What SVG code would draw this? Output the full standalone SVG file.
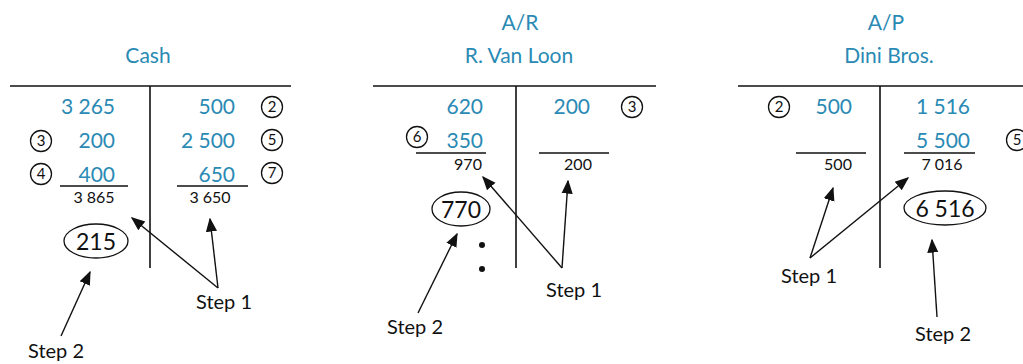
<svg xmlns="http://www.w3.org/2000/svg" width="1023" height="364" viewBox="0 0 1023 364">
<style>
.bg{fill:#fff}
.title{font-family:Lato,"Open Sans",sans-serif;font-size:21px;fill:#2a8ab4;text-anchor:middle}
.amt{font-family:Lato,"Open Sans",sans-serif;font-size:21px;fill:#2a8ab4;text-anchor:end}
.tot{font-family:Lato,"Open Sans",sans-serif;font-size:16px;fill:#111;text-anchor:middle}
.bal{font-family:Lato,"Open Sans",sans-serif;font-size:23px;fill:#111;text-anchor:middle}
.step{font-family:Lato,"Open Sans",sans-serif;font-size:20px;fill:#111}
.cn{font-family:Lato,"Open Sans",sans-serif;font-size:15px;fill:#111;text-anchor:middle}
.circ{fill:none;stroke:#111;stroke-width:1.3}
.tline{stroke:#111;stroke-width:1.6;fill:none}
.uline{stroke:#111;stroke-width:1.3;fill:none}
.arrow{stroke:#111;stroke-width:1.4;fill:none;marker-end:url(#ah)}
</style>
<defs>
<marker id="ah" viewBox="0 0 10 10" refX="9" refY="5" markerWidth="14" markerHeight="14" markerUnits="userSpaceOnUse" orient="auto">
<path d="M0,1 L10,5 L0,9 z" fill="#111"/>
</marker>
</defs>
<rect class="bg" x="0" y="0" width="1023" height="364"/>

<g id="cash">
<text class="title" x="148" y="63">Cash</text>
<line class="tline" x1="10" y1="86" x2="291" y2="86"/>
<line class="tline" x1="150" y1="86" x2="150" y2="268"/>
<text class="amt" x="115" y="114">3 265</text>
<text class="amt" x="115" y="148">200</text>
<text class="amt" x="115" y="182">400</text>
<text class="amt" x="235" y="114">500</text>
<text class="amt" x="235" y="148">2 500</text>
<text class="amt" x="235" y="182">650</text>
<circle class="circ" cx="272" cy="107" r="10.5"/><text class="cn" x="272" y="112">2</text>
<circle class="circ" cx="272" cy="140" r="10.5"/><text class="cn" x="272" y="145">5</text>
<circle class="circ" cx="272" cy="173" r="10.5"/><text class="cn" x="272" y="178">7</text>
<circle class="circ" cx="41" cy="141" r="10.5"/><text class="cn" x="41" y="146">3</text>
<circle class="circ" cx="41" cy="174" r="10.5"/><text class="cn" x="41" y="179">4</text>
<line class="uline" x1="60" y1="186" x2="128" y2="186"/>
<line class="uline" x1="177" y1="186" x2="248" y2="186"/>
<text class="tot" x="94" y="203">3 865</text>
<text class="tot" x="210" y="203">3 650</text>
<ellipse class="circ" cx="96" cy="241" rx="32" ry="17"/>
<text class="bal" x="96" y="250">215</text>
<text class="step" x="196" y="309">Step 1</text>
<text class="step" x="28" y="358">Step 2</text>
</g>

<g id="ar">
<text class="title" x="520" y="30">A/R</text>
<text class="title" x="519" y="63">R. Van Loon</text>
<line class="tline" x1="373" y1="86" x2="656" y2="86"/>
<line class="tline" x1="516" y1="86" x2="516" y2="268"/>
<text class="amt" x="483" y="114">620</text>
<text class="amt" x="483" y="148">350</text>
<text class="amt" x="590" y="114">200</text>
<circle class="circ" cx="632" cy="107" r="10.5"/><text class="cn" x="632" y="112">3</text>
<circle class="circ" cx="417" cy="137" r="10.5"/><text class="cn" x="417" y="142">6</text>
<line class="uline" x1="416" y1="153" x2="486" y2="153"/>
<line class="uline" x1="539" y1="153" x2="609" y2="153"/>
<text class="tot" x="468" y="170">970</text>
<text class="tot" x="578" y="170">200</text>
<ellipse class="circ" cx="461" cy="209" rx="29" ry="17"/>
<text class="bal" x="461" y="218">770</text>
<circle cx="482" cy="245" r="3" fill="#111"/>
<circle cx="482" cy="269" r="3" fill="#111"/>
<text class="step" x="546" y="297">Step 1</text>
<text class="step" x="387" y="334">Step 2</text>
</g>

<g id="ap">
<text class="title" x="886" y="30">A/P</text>
<text class="title" x="889" y="63">Dini Bros.</text>
<line class="tline" x1="738" y1="86" x2="1023" y2="86"/>
<line class="tline" x1="880" y1="86" x2="880" y2="268"/>
<circle class="circ" cx="779" cy="107" r="10.5"/><text class="cn" x="779" y="112">2</text>
<text class="amt" x="852" y="114">500</text>
<text class="amt" x="970" y="114">1 516</text>
<text class="amt" x="970" y="148">5 500</text>
<circle class="circ" cx="1017" cy="140" r="10.5"/><text class="cn" x="1017" y="145">5</text>
<line class="uline" x1="796" y1="153" x2="866" y2="153"/>
<line class="uline" x1="904" y1="153" x2="975" y2="153"/>
<text class="tot" x="838" y="170">500</text>
<text class="tot" x="942" y="170">7 016</text>
<ellipse class="circ" cx="945" cy="208" rx="41" ry="17"/>
<text class="bal" x="945" y="217">6 516</text>
<text class="step" x="781" y="283">Step 1</text>
<text class="step" x="915" y="341">Step 2</text>
</g>

<g id="connectors">
<line class="arrow" x1="218" y1="288" x2="132" y2="218"/>
<line class="arrow" x1="218" y1="288" x2="210" y2="219"/>
<line class="arrow" x1="61" y1="336" x2="90" y2="272"/>
<line class="arrow" x1="562" y1="268" x2="483" y2="177"/>
<line class="arrow" x1="562" y1="268" x2="568" y2="181"/>
<line class="arrow" x1="418" y1="313" x2="457" y2="234"/>
<line class="arrow" x1="810" y1="258" x2="833" y2="188"/>
<line class="arrow" x1="810" y1="258" x2="908" y2="178"/>
<line class="arrow" x1="937" y1="317" x2="932" y2="240"/>
</g>
</svg>
